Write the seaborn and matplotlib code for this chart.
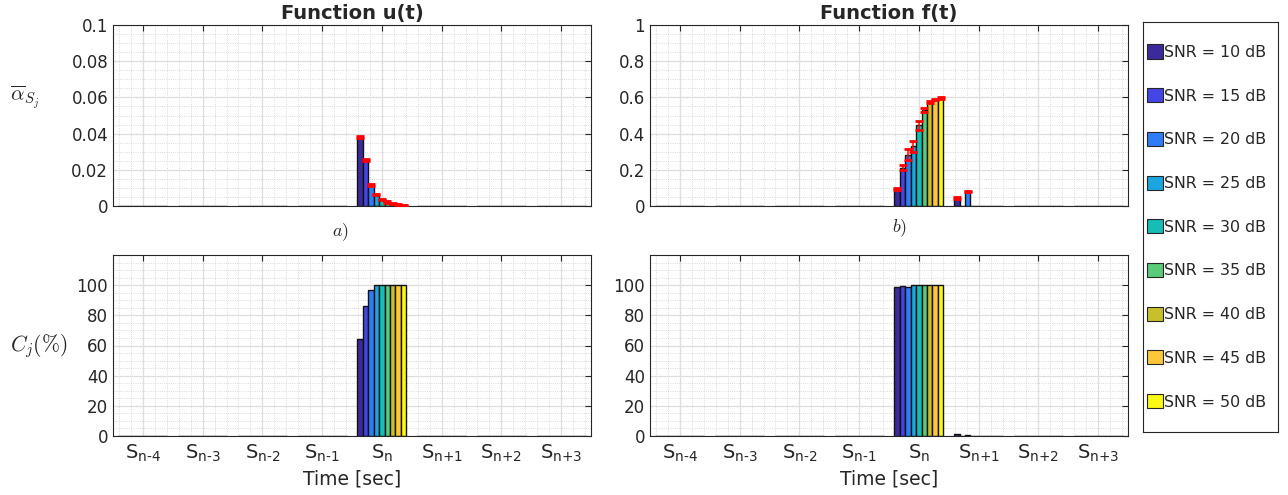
import numpy as np
import pandas as pd
import seaborn as sns
import matplotlib
matplotlib.use("Agg")
import matplotlib.pyplot as plt
from matplotlib.ticker import AutoMinorLocator, MultipleLocator, FuncFormatter
from matplotlib.patches import Patch
from matplotlib.container import BarContainer

# ---------------- data ----------------
categories = [r'$\mathregular{S_{\text{n-4}}}$', r'$\mathregular{S_{\text{n-3}}}$', r'$\mathregular{S_{\text{n-2}}}$',
              r'$\mathregular{S_{\text{n-1}}}$', r'$\mathregular{S_{\text{n}}}$', r'$\mathregular{S_{\text{n+1}}}$',
              r'$\mathregular{S_{\text{n+2}}}$', r'$\mathregular{S_{\text{n+3}}}$']
snr_levels = [10, 15, 20, 25, 30, 35, 40, 45, 50]
snr_labels = [f'SNR = {s} dB' for s in snr_levels]
colors = ['#3a2a9c', '#4545e6', '#2f7cf6', '#1aa6e0', '#14bdb5',
          '#5acb78', '#c9bf2a', '#ffc637', '#f9f915']

# u(t): mean alpha at S_n (other segments zero)
u_alpha_sn = [0.038, 0.0255, 0.0115, 0.0062, 0.0038, 0.0022, 0.0012, 0.0007, 0.0004]
u_alpha_err_sn = [0.0006, 0.0005, 0.0004, 0.0003, 0.0003, 0.0003, 0.0003, 0.0003, 0.0003]
# f(t): mean alpha at S_n and S_n+1
f_alpha_sn = [0.096, 0.212, 0.284, 0.330, 0.445, 0.532, 0.575, 0.588, 0.597]
f_alpha_err_sn = [0.006, 0.012, 0.030, 0.030, 0.025, 0.010, 0.006, 0.005, 0.004]
f_alpha_sn1 = [0.045, 0.0, 0.080, 0.0, 0.0, 0.0, 0.0, 0.0, 0.0]
f_alpha_err_sn1 = [0.004, 0.0, 0.004, 0.0, 0.0, 0.0, 0.0, 0.0, 0.0]
# detection percentage C_j
u_conf_sn = [64.0, 86.5, 97.0, 100.0, 100.0, 100.0, 100.0, 100.0, 100.0]
f_conf_sn = [98.5, 99.5, 99.0, 100.0, 100.0, 100.0, 100.0, 100.0, 100.0]
f_conf_sn1 = [1.2, 0.0, 0.6, 0.0, 0.0, 0.0, 0.0, 0.0, 0.0]

SN, SN1 = 4, 5  # category indices


def make_df(per_cat):
    rows = []
    for ci, cat in enumerate(categories):
        vals = per_cat.get(ci, [0.0] * len(snr_labels))
        for si, snr in enumerate(snr_labels):
            rows.append({'seg': cat, 'snr': snr, 'val': vals[si]})
    return pd.DataFrame(rows)


# ---------------- style ----------------
sns.set_theme(style='white')
plt.rcParams['font.family'] = ['DejaVu Sans']
plt.rcParams['axes.edgecolor'] = '#262626'
plt.rcParams['text.color'] = '#262626'
plt.rcParams['xtick.color'] = '#262626'
plt.rcParams['ytick.color'] = '#262626'

W, H = 1288, 495
fig = plt.figure(figsize=(W / 100, H / 100), dpi=100)


def box(x0, y0, x1, y1):
    return [x0 / W, 1 - y1 / H, (x1 - x0) / W, (y1 - y0) / H]


ax_ua = fig.add_axes(box(113, 25, 591, 206))
ax_fa = fig.add_axes(box(650, 25, 1128, 206))
ax_uc = fig.add_axes(box(113, 255, 591, 436))
ax_fc = fig.add_axes(box(650, 255, 1128, 436))

fmt = FuncFormatter(lambda v, p: f'{v:g}')


def draw(ax, per_cat, per_err=None):
    df = make_df(per_cat)
    sns.barplot(data=df, x='seg', y='val', hue='snr', order=categories,
                hue_order=snr_labels, palette=colors, width=0.82,
                edgecolor='#111111', linewidth=1.0, errorbar=None,
                saturation=1, legend=False, ax=ax)
    if per_err is not None:
        bar_conts = [c for c in ax.containers if isinstance(c, BarContainer)]
        for hi, cont in enumerate(bar_conts):
            xs, ys, es = [], [], []
            for ci, bar in enumerate(cont.patches):
                err = per_err.get(ci, None)
                if err is None or err[hi] <= 0:
                    continue
                xs.append(bar.get_x() + bar.get_width() / 2)
                ys.append(bar.get_height())
                es.append(err[hi])
            if xs:
                ax.errorbar(xs, ys, yerr=es, fmt='none', ecolor='#ff0000',
                            elinewidth=1.1, capsize=3.2, capthick=2.0, zorder=5)
    ax.set_xlim(-0.5, len(categories) - 0.5)
    ax.set_xlabel('')
    ax.set_ylabel('')
    ax.xaxis.set_minor_locator(AutoMinorLocator(5))
    ax.yaxis.set_minor_locator(AutoMinorLocator(4))
    ax.set_axisbelow(True)
    ax.grid(which='major', color='#dedede', linewidth=0.9, linestyle='-')
    ax.grid(which='minor', color='#cfcfcf', linewidth=0.6, linestyle=':')
    ax.tick_params(which='major', direction='in', top=True, right=True,
                   length=4, width=0.8, labelsize=12)
    ax.tick_params(which='minor', length=0)
    for s in ax.spines.values():
        s.set_visible(True)
        s.set_color('#262626')
        s.set_linewidth(0.8)
    ax.yaxis.set_major_formatter(fmt)


draw(ax_ua, {SN: u_alpha_sn}, {SN: u_alpha_err_sn})
ax_ua.set_ylim(0, 0.1)
ax_ua.yaxis.set_major_locator(MultipleLocator(0.02))
ax_ua.yaxis.set_minor_locator(AutoMinorLocator(4))

draw(ax_fa, {SN: f_alpha_sn, SN1: f_alpha_sn1}, {SN: f_alpha_err_sn, SN1: f_alpha_err_sn1})
ax_fa.set_ylim(0, 1)
ax_fa.yaxis.set_major_locator(MultipleLocator(0.2))
ax_fa.yaxis.set_minor_locator(AutoMinorLocator(4))

draw(ax_uc, {SN: u_conf_sn})
draw(ax_fc, {SN: f_conf_sn, SN1: f_conf_sn1})
for ax in (ax_uc, ax_fc):
    ax.set_ylim(0, 120)
    ax.set_yticks([0, 20, 40, 60, 80, 100])
    ax.yaxis.set_minor_locator(AutoMinorLocator(4))
    ax.set_xticks(range(len(categories)))
    ax.set_xticklabels(categories, fontsize=14)
    ax.tick_params(axis='x', pad=5)
    ax.set_xlabel('Time [sec]', fontsize=13.5, labelpad=4)

for ax in (ax_ua, ax_fa):
    ax.set_xticks(range(len(categories)))
    ax.set_xticklabels([])

ax_ua.set_title('Function u(t)', fontweight='bold', fontsize=14, pad=4)
ax_fa.set_title('Function f(t)', fontweight='bold', fontsize=14, pad=4)

ax_ua.text(0.475, -0.145, r'$a)$', transform=ax_ua.transAxes, ha='center', va='center',
           fontsize=13, math_fontfamily='cm')
ax_fa.text(0.523, -0.125, r'$b)$', transform=ax_fa.transAxes, ha='center', va='center',
           fontsize=13, math_fontfamily='cm')

fig.text(10 / W, 1 - 97 / H, r'$\overline{\alpha}_{S_j}$', ha='left', va='center',
         fontsize=15, math_fontfamily='cm')
fig.text(10 / W, 1 - 346 / H, r'$C_j(\%)$', ha='left', va='center',
         fontsize=15.5, math_fontfamily='cm')

# legend box
lax = fig.add_axes(box(1143, 22, 1278, 432))
lax.set_xticks([])
lax.set_yticks([])
lax.set_facecolor('white')
for s in lax.spines.values():
    s.set_visible(True)
    s.set_color('#262626')
    s.set_linewidth(0.8)
handles = [Patch(facecolor=c, edgecolor='#262626', linewidth=0.8) for c in colors]
lax.legend(handles, snr_labels, loc='center left', frameon=False,
           handlelength=1.0, handleheight=1.0, handletextpad=0.1,
           labelspacing=1.78, fontsize=11.4, borderaxespad=0.15, borderpad=0.1)

fig.savefig('out.png', dpi=100, facecolor='white')
